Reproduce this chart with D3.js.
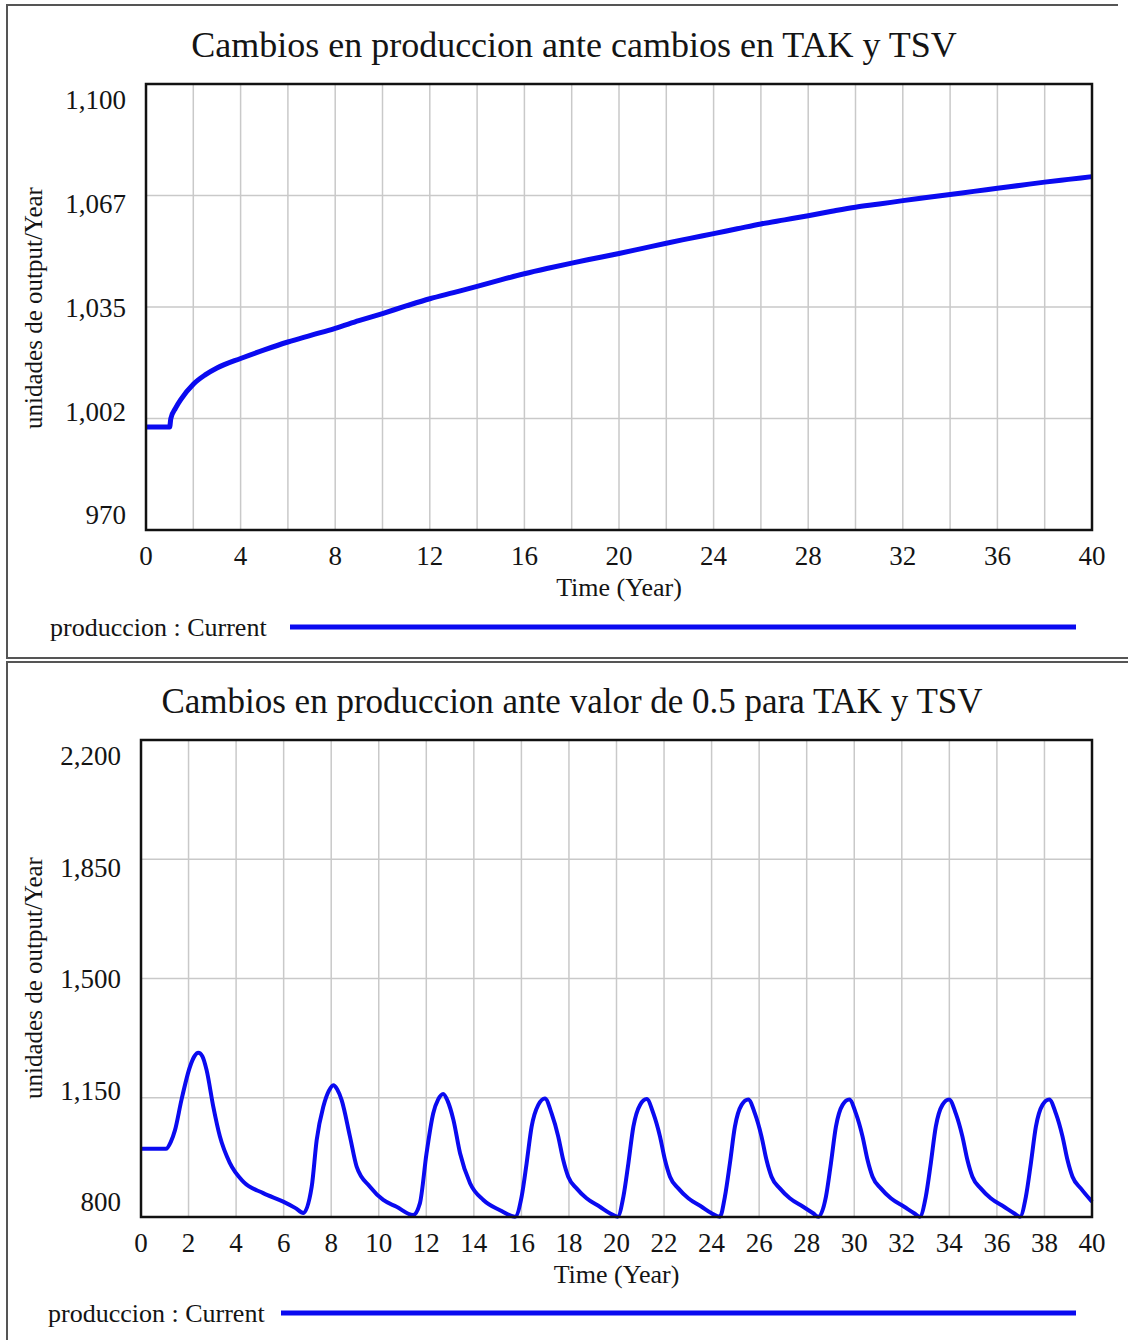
<!DOCTYPE html>
<html>
<head>
<meta charset="utf-8">
<script src="https://cdn.jsdelivr.net/npm/d3@7"></script>
<style>
  body { margin: 0; background: #fff; }
  svg { display: block; }
  text { font-family: "Liberation Serif", "Times New Roman", serif; fill: #141414; }
</style>
</head>
<body>
<div id="chart-area"></div>
<script>
// ---- data ----
const topYears = [0, 1, 1.05, 1.25, 1.5, 2, 2.5, 3, 4, 5, 6, 7, 8, 9, 10, 11, 12, 13, 14, 15, 16,
  17, 18, 19, 20, 21, 22, 23, 24, 25, 26, 27, 28, 29, 30, 31, 32, 33, 34, 35, 36, 37, 38, 39, 40]
const topProduccion = [1000, 1000, 1002.5, 1005.5, 1008.3, 1012.5, 1015.2, 1017.2, 1020, 1022.5, 1024.8,
  1026.8, 1028.8, 1031, 1033.1, 1035.3, 1037.4, 1039.2, 1041, 1042.9, 1044.7, 1046.3, 1047.8, 1049.2,
  1050.6, 1052.1, 1053.6, 1055, 1056.4, 1057.8, 1059.2, 1060.4, 1061.6, 1062.9, 1064.1, 1065, 1066,
  1066.9, 1067.8, 1068.7, 1069.6, 1070.5, 1071.4, 1072.2, 1073]

const bottomYears = [0, 1.05, 1.25, 1.43, 1.7, 2.06, 2.25, 2.41, 2.58, 2.76, 3.04, 3.32, 3.74, 4.3, 5.14,
  5.98, 6.5, 6.83,
  7.18, 7.39, 7.67, 7.9, 8.09, 8.25, 8.44, 8.79, 9.07, 9.63, 10.19, 10.75, 11.45,
  11.73, 12.01, 12.29, 12.5, 12.71, 12.9, 13.14, 13.42, 13.84, 14.4, 15.1, 15.73,
  16.01, 16.22, 16.43, 16.71, 16.99, 17.27, 17.55, 17.76, 17.97, 18.32, 18.74, 19.3, 19.72, 20.05,
  20.29, 20.5, 20.71, 20.99, 21.27, 21.55, 21.83, 22.04, 22.25, 22.6, 23.02, 23.58, 24.0, 24.35,
  24.56, 24.77, 24.98, 25.26, 25.54, 25.82, 26.1, 26.31, 26.52, 26.87, 27.29, 27.85, 28.27, 28.49,
  28.81, 29.02, 29.23, 29.51, 29.79, 30.07, 30.35, 30.56, 30.77, 31.12, 31.54, 32.1, 32.52, 32.75,
  33.01, 33.22, 33.43, 33.71, 33.99, 34.27, 34.55, 34.76, 34.97, 35.32, 35.74, 36.3, 36.72, 36.97,
  37.22, 37.43, 37.64, 37.92, 38.2, 38.48, 38.76, 38.97, 39.18, 39.53, 40]
const bottomProduccion = [1000, 1000, 1020, 1055, 1143, 1241, 1272, 1282, 1272, 1231, 1124, 1036, 958, 904, 870,
  845, 826, 812,
  889, 1026, 1124, 1170, 1187, 1175, 1143, 1036, 948, 889, 850, 830, 806,
  840, 987, 1104, 1145, 1161, 1140, 1085, 987, 899, 850, 820, 801,
  860, 958, 1065, 1129, 1148, 1104, 1036, 967, 918, 884, 855, 830, 811, 801,
  860, 958, 1065, 1129, 1146, 1104, 1036, 967, 918, 884, 855, 830, 811, 801,
  860, 958, 1065, 1129, 1145, 1104, 1036, 967, 918, 884, 855, 830, 811, 801,
  860, 958, 1065, 1129, 1145, 1104, 1036, 967, 918, 884, 855, 830, 811, 801,
  860, 958, 1065, 1129, 1145, 1104, 1036, 967, 918, 884, 855, 830, 811, 801,
  860, 958, 1065, 1129, 1145, 1104, 1036, 967, 918, 884, 845]

const topTitle = 'Cambios en produccion ante cambios en TAK y TSV'
const bottomTitle = 'Cambios en produccion ante valor de 0.5 para TAK y TSV'
const topYTicks = [970, 1002.5, 1035, 1067.5, 1100]
const topYLabels = ['970', '1,002', '1,035', '1,067', '1,100']
const bottomYTicks = [800, 1150, 1500, 1850, 2200]
const bottomYLabels = ['800', '1,150', '1,500', '1,850', '2,200']
const topXLabels = [0, 4, 8, 12, 16, 20, 24, 28, 32, 36, 40]
const bottomXLabels = [0, 2, 4, 6, 8, 10, 12, 14, 16, 18, 20, 22, 24, 26, 28, 30, 32, 34, 36, 38, 40]
const xGrid = [2, 4, 6, 8, 10, 12, 14, 16, 18, 20, 22, 24, 26, 28, 30, 32, 34, 36, 38]

const WIDTH = 1128
const HEIGHT = 1340
const BLUE = '#0a0af0'

const svg = d3.select('#chart-area').append('svg')
  .attr('width', WIDTH)
  .attr('height', HEIGHT)

// panel frames
const frame = svg.append('g').attr('stroke', '#555').attr('stroke-width', 2).attr('fill', 'none')
frame.append('path').attr('d', 'M1118,5 H7 V658 H1128')
frame.append('path').attr('d', 'M1128,662 H7 V1340')

function drawPanel(cfg) {
  const x = d3.scaleLinear().domain([0, 40]).range([cfg.left, cfg.right])
  const y = d3.scaleLinear().domain(cfg.yDomain).range([cfg.bottom, cfg.top])
  // vensim spreads the y labels slightly inside the plot box
  const yLab = d3.scaleLinear().domain(cfg.yDomain).range([cfg.bottom - 15, cfg.top + 15.5])

  const g = svg.append('g')

  // title
  g.append('text')
    .attr('x', cfg.titleX)
    .attr('y', cfg.titleY)
    .attr('text-anchor', 'middle')
    .attr('font-size', cfg.titleSize)
    .text(cfg.title)

  // grid
  g.append('g').selectAll('line.v')
    .data(xGrid)
    .join('line')
      .attr('x1', d => x(d)).attr('x2', d => x(d))
      .attr('y1', cfg.top).attr('y2', cfg.bottom)
      .attr('stroke', '#c9c9c9').attr('stroke-width', 1.5)
  g.append('g').selectAll('line.h')
    .data(cfg.yTicks.slice(1, -1))
    .join('line')
      .attr('x1', cfg.left).attr('x2', cfg.right)
      .attr('y1', d => y(d)).attr('y2', d => y(d))
      .attr('stroke', '#c9c9c9').attr('stroke-width', 1.5)

  // y labels
  g.append('g').selectAll('text')
    .data(cfg.yTicks)
    .join('text')
      .attr('x', cfg.left - 20)
      .attr('y', d => yLab(d))
      .attr('dy', '0.35em')
      .attr('text-anchor', 'end')
      .attr('font-size', '27px')
      .text((d, i) => cfg.yLabels[i])

  // x labels
  g.append('g').selectAll('text')
    .data(cfg.xLabels)
    .join('text')
      .attr('x', d => x(d))
      .attr('y', cfg.bottom + 35)
      .attr('text-anchor', 'middle')
      .attr('font-size', '27px')
      .text(d => d)

  // axis titles
  g.append('text')
    .attr('x', (cfg.left + cfg.right) / 2)
    .attr('y', cfg.bottom + 66)
    .attr('text-anchor', 'middle')
    .attr('font-size', '26px')
    .text('Time (Year)')
  g.append('text')
    .attr('transform', `translate(42, ${cfg.yTitleY}) rotate(-90)`)
    .attr('text-anchor', 'middle')
    .attr('font-size', '25px')
    .text('unidades de output/Year')

  // series
  const line = d3.line()
    .x((d, i) => x(cfg.years[i]))
    .y(d => y(d))
    .curve(d3.curveMonotoneX)
  g.append('path')
    .datum(cfg.values)
    .attr('d', line)
    .attr('fill', 'none')
    .attr('stroke', BLUE)
    .attr('stroke-width', cfg.lineWidth)
    .attr('stroke-linejoin', 'round')

  // plot frame
  g.append('rect')
    .attr('x', cfg.left).attr('y', cfg.top)
    .attr('width', cfg.right - cfg.left).attr('height', cfg.bottom - cfg.top)
    .attr('fill', 'none').attr('stroke', '#111').attr('stroke-width', 2.5)

  // legend
  g.append('text')
    .attr('x', cfg.legendX)
    .attr('y', cfg.legendY + 9)
    .attr('font-size', '26px')
    .text('produccion : Current')
  g.append('line')
    .attr('x1', cfg.legendLineX).attr('x2', 1076)
    .attr('y1', cfg.legendY).attr('y2', cfg.legendY)
    .attr('stroke', BLUE).attr('stroke-width', 5)
}

drawPanel({
  title: topTitle, titleX: 574, titleY: 57, titleSize: '36px',
  left: 146, right: 1092, top: 84, bottom: 530,
  yDomain: [970, 1100], yTicks: topYTicks, yLabels: topYLabels,
  xLabels: topXLabels, yTitleY: 308,
  years: topYears, values: topProduccion, lineWidth: 5,
  legendX: 50, legendY: 627, legendLineX: 290
})

drawPanel({
  title: bottomTitle, titleX: 572, titleY: 713, titleSize: '35px',
  left: 141, right: 1092, top: 740, bottom: 1217,
  yDomain: [800, 2200], yTicks: bottomYTicks, yLabels: bottomYLabels,
  xLabels: bottomXLabels, yTitleY: 978,
  years: bottomYears, values: bottomProduccion, lineWidth: 4,
  legendX: 48, legendY: 1313, legendLineX: 281
})
</script>
</body>
</html>
